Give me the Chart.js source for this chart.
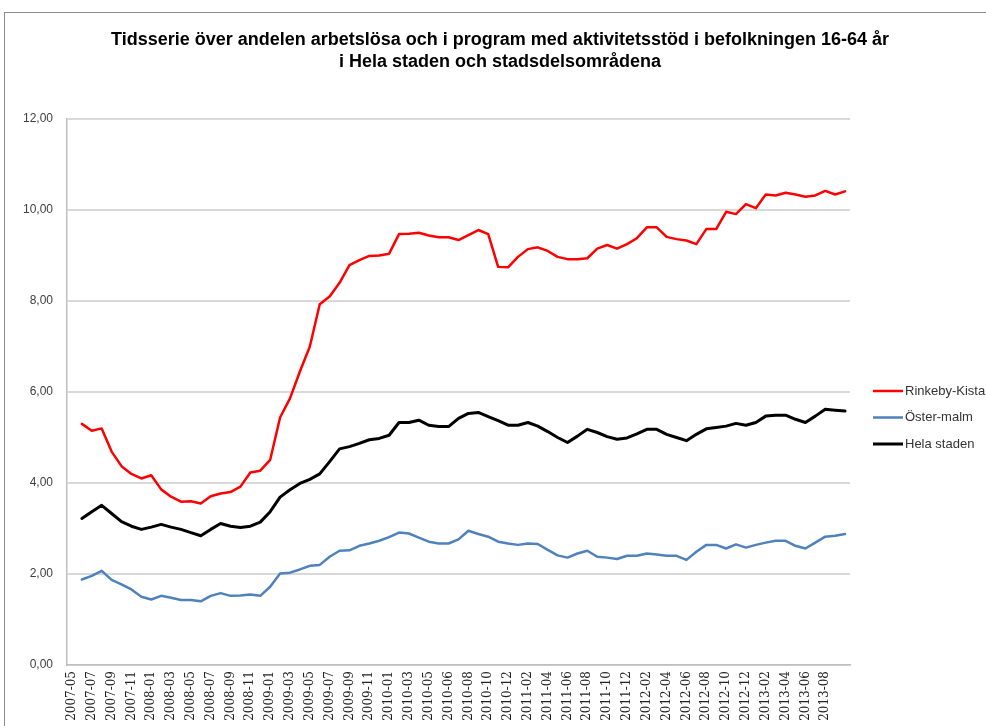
<!DOCTYPE html>
<html>
<head>
<meta charset="utf-8">
<script src="https://cdn.jsdelivr.net/npm/chart.js@4/dist/chart.umd.min.js"></script>
<style>
    html, body { margin: 0; padding: 0; background: #fff; overflow: hidden; }
    #frame { position: absolute; left: 4px; top: 12px; width: 1000px; height: 800px; border: 1px solid #8c8c8c; }
    #wrap { position: absolute; left: 0; top: 0; width: 986px; height: 726px; }
</style>
</head>
<body>
<div id="frame"></div>
<div id="wrap"><canvas id="chart" width="986" height="726"></canvas></div>
<script>
// Months (one category per month, labels shown on every second one)
var months = [
    '2007-05', '2007-06', '2007-07', '2007-08', '2007-09', '2007-10', '2007-11', '2007-12',
    '2008-01', '2008-02', '2008-03', '2008-04', '2008-05', '2008-06', '2008-07', '2008-08', '2008-09', '2008-10', '2008-11', '2008-12',
    '2009-01', '2009-02', '2009-03', '2009-04', '2009-05', '2009-06', '2009-07', '2009-08', '2009-09', '2009-10', '2009-11', '2009-12',
    '2010-01', '2010-02', '2010-03', '2010-04', '2010-05', '2010-05', '2010-06', '2010-07', '2010-08', '2010-09', '2010-10', '2010-11', '2010-12',
    '2011-01', '2011-02', '2011-03', '2011-04', '2011-05', '2011-06', '2011-07', '2011-08', '2011-09', '2011-10', '2011-11', '2011-12',
    '2012-01', '2012-02', '2012-03', '2012-04', '2012-05', '2012-06', '2012-07', '2012-08', '2012-09', '2012-10', '2012-11', '2012-12',
    '2013-01', '2013-02', '2013-03', '2013-04', '2013-05', '2013-06', '2013-07', '2013-08', '2013-09', '2013-10'
];

var rinkebyKista = [
    null, 5.30, 5.15, 5.20, 4.69, 4.37, 4.20, 4.10, 4.17, 3.86, 3.70, 3.59, 3.60, 3.55, 3.71, 3.77, 3.80, 3.92, 4.23, 4.27,
    4.51, 5.44, 5.86, 6.45, 7.00, 7.93, 8.10, 8.40, 8.79, 8.90, 8.99, 9.00, 9.04, 9.47, 9.48, 9.50, 9.44, 9.40, 9.40, 9.34,
    9.45, 9.56, 9.47, 8.75, 8.74, 8.97, 9.14, 9.18, 9.10, 8.97, 8.92, 8.92, 8.94, 9.15, 9.23, 9.15, 9.25, 9.38, 9.62, 9.62,
    9.41, 9.36, 9.33, 9.25, 9.58, 9.58, 9.96, 9.91, 10.13, 10.04, 10.34, 10.32, 10.38, 10.34, 10.29, 10.32, 10.42, 10.34, 10.41
];

var osterMalm = [
    null, 1.88, 1.96, 2.07, 1.87, 1.77, 1.66, 1.50, 1.44, 1.52, 1.48, 1.43, 1.43, 1.40, 1.52, 1.58, 1.52, 1.53, 1.55, 1.52,
    1.72, 2.01, 2.03, 2.10, 2.18, 2.20, 2.38, 2.51, 2.52, 2.62, 2.67, 2.73, 2.81, 2.91, 2.89, 2.80, 2.71, 2.67, 2.67, 2.76,
    2.95, 2.88, 2.82, 2.71, 2.67, 2.64, 2.67, 2.66, 2.53, 2.41, 2.36, 2.45, 2.51, 2.38, 2.36, 2.33, 2.40, 2.40, 2.45, 2.43,
    2.40, 2.40, 2.31, 2.49, 2.64, 2.64, 2.56, 2.65, 2.58, 2.64, 2.69, 2.73, 2.73, 2.62, 2.56, 2.69, 2.82, 2.84, 2.88
];

var helaStaden = [
    null, 3.22, 3.37, 3.51, 3.33, 3.15, 3.05, 2.98, 3.03, 3.09, 3.03, 2.98, 2.91, 2.84, 2.98, 3.11, 3.05, 3.02, 3.05, 3.14,
    3.37, 3.69, 3.85, 3.99, 4.08, 4.20, 4.47, 4.75, 4.80, 4.87, 4.95, 4.98, 5.05, 5.33, 5.33, 5.38, 5.27, 5.24, 5.24, 5.42,
    5.53, 5.55, 5.46, 5.37, 5.27, 5.27, 5.33, 5.25, 5.13, 5.00, 4.89, 5.03, 5.18, 5.11, 5.02, 4.96, 4.99, 5.08, 5.18, 5.18,
    5.07, 5.00, 4.93, 5.07, 5.19, 5.22, 5.25, 5.31, 5.27, 5.33, 5.47, 5.49, 5.49, 5.40, 5.33, 5.47, 5.62, 5.60, 5.58
];

var yTicks = [0, 2, 4, 6, 8, 10, 12];

var titleLines = [
    'Tidsserie över andelen arbetslösa och i program med aktivitetsstöd i befolkningen 16-64 år',
    'i Hela staden och stadsdelsområdena'
];

// Title drawn above the plot
var titlePlugin = {
    id: 'titleText',
    afterDraw: function (chart) {
        var ctx = chart.ctx;
        ctx.save();
        ctx.fillStyle = '#000';
        ctx.font = 'bold 18px "Liberation Sans Narrow", "Liberation Sans", Arial, sans-serif';
        ctx.textAlign = 'center';
        ctx.textBaseline = 'middle';
        ctx.fillText(titleLines[0], 500, 40);
        ctx.fillText(titleLines[1], 500, 62);
        ctx.restore();
    }
};

// Legend on the right, line samples like Excel
var legendPlugin = {
    id: 'sideLegend',
    afterDraw: function (chart) {
        var ctx = chart.ctx;
        var x = chart.chartArea.right + 23;
        var y = 391;
        ctx.save();
        ctx.font = '13px "Liberation Sans", Arial, sans-serif';
        ctx.textBaseline = 'middle';
        chart.data.datasets.forEach(function (ds) {
            ctx.strokeStyle = ds.borderColor;
            ctx.lineWidth = ds.borderWidth;
            ctx.beginPath();
            ctx.moveTo(x, y);
            ctx.lineTo(x + 30, y);
            ctx.stroke();
            ctx.fillStyle = '#333';
            ctx.fillText(ds.label, x + 32, y);
            y += 26.5;
        });
        ctx.restore();
    }
};

var ctx = document.getElementById('chart').getContext('2d');
var chart = new Chart(ctx, {
    type: 'line',
    data: {
        labels: months,
        datasets: [{
            label: 'Rinkeby-Kista',
            data: rinkebyKista,
            borderColor: '#ff0000',
            borderWidth: 2.5
        }, {
            label: 'Öster-malm',
            data: osterMalm,
            borderColor: '#4f81bd',
            borderWidth: 2.5
        }, {
            label: 'Hela staden',
            data: helaStaden,
            borderColor: '#000000',
            borderWidth: 3
        }]
    },
    options: {
        responsive: false,
        animation: false,
        layout: { padding: { top: 119, right: 136, bottom: 0, left: 0 } },
        elements: {
            point: { radius: 0 },
            line: { tension: 0, borderJoinStyle: 'round', borderCapStyle: 'round' }
        },
        plugins: {
            legend: { display: false },
            title: { display: false },
            tooltip: { enabled: false }
        },
        scales: {
            x: {
                offset: true,
                grid: { display: false, drawTicks: false },
                border: { display: true, color: '#bfbfbf', width: 1.5 },
                afterFit: function (scale) { scale.height = 61; },
                ticks: {
                    autoSkip: false,
                    minRotation: 90,
                    maxRotation: 90,
                    padding: 6,
                    color: '#222',
                    font: { family: '"DejaVu Serif", serif', size: 12 },
                    callback: function (value, index) {
                        // every second month; the last month carries no label
                        return (index % 2 === 0 && index < months.length - 1) ? months[index] : '';
                    }
                }
            },
            y: {
                min: yTicks[0],
                max: yTicks[yTicks.length - 1],
                afterFit: function (scale) { scale.width = 67; },
                afterBuildTicks: function (scale) {
                    scale.ticks = yTicks.map(function (v) { return { value: v }; });
                },
                grid: { color: '#d9d9d9', lineWidth: 2, drawTicks: false },
                border: { display: true, color: '#bfbfbf', width: 1.5 },
                ticks: {
                    padding: 14,
                    color: '#404040',
                    font: { family: '"Liberation Sans", Arial, sans-serif', size: 12 },
                    callback: function (value) {
                        return value.toFixed(2).replace('.', ',');
                    }
                }
            }
        }
    },
    plugins: [titlePlugin, legendPlugin]
});
</script>
</body>
</html>
